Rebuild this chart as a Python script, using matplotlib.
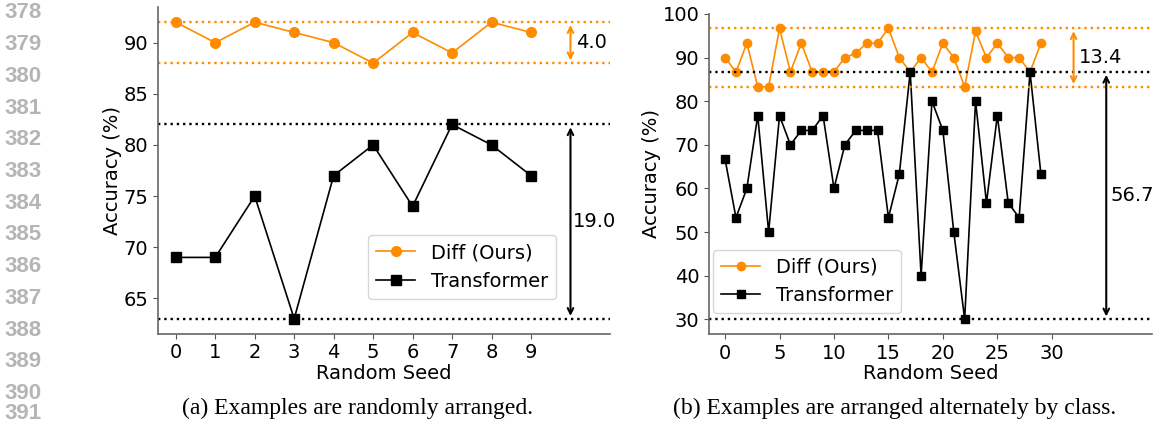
import numpy as np
import matplotlib
matplotlib.use("Agg")
import matplotlib.pyplot as plt

# (a) random arrangement, 10 seeds
seeds_a = list(range(10))
diff_a = [92, 90, 92, 91, 90, 88, 91, 89, 92, 91]
trans_a = [69, 69, 75, 63, 77, 80, 74, 82, 80, 77]

# (b) alternating by class, 30 seeds
seeds_b = list(range(30))
diff_b = [90, 86.7, 93.3, 83.3, 83.3, 96.7, 86.7, 93.3, 86.7, 86.7,
          86.7, 90, 91, 93.3, 93.3, 96.7, 90, 86.7, 90, 86.7,
          93.3, 90, 83.3, 96, 90, 93.3, 90, 90, 86.7, 93.3]
trans_b = [66.7, 53.3, 60, 76.7, 50, 76.7, 70, 73.3, 73.3, 76.7,
           60, 70, 73.3, 73.3, 73.3, 53.3, 63.3, 86.7, 40, 80,
           73.3, 50, 30, 80, 56.7, 76.7, 56.7, 53.3, 86.7, 63.3]

ORANGE = "darkorange"
FS = 14

fig = plt.figure(figsize=(11.55, 4.25), dpi=100)
ax1 = fig.add_axes([0.1368, 0.2151, 0.3913, 0.7675])
ax2 = fig.add_axes([0.6139, 0.2146, 0.3835, 0.7525])


def draw(ax, x, diff, trans, ms, arrow_x, o_lbl, k_lbl, o_tx, k_tx):
    ax.plot(x, diff, "-o", color=ORANGE, lw=1.2, ms=ms, label="Diff (Ours)")
    ax.plot(x, trans, "-s", color="black", lw=1.2, ms=ms, label="Transformer")
    o_lo, o_hi = min(diff), max(diff)
    k_lo, k_hi = min(trans), max(trans)
    for v in (o_lo, o_hi):
        ax.axhline(v, color=ORANGE, ls=":", lw=1.7)
    for v in (k_lo, k_hi):
        ax.axhline(v, color="black", ls=":", lw=1.7)
    ax.annotate("", xy=(arrow_x[0], o_lo), xytext=(arrow_x[0], o_hi),
                arrowprops=dict(arrowstyle="<->", color=ORANGE, lw=1.5))
    ax.annotate("", xy=(arrow_x[1], k_lo), xytext=(arrow_x[1], k_hi),
                arrowprops=dict(arrowstyle="<->", color="black", lw=1.5))
    ax.text(o_tx, (o_lo + o_hi) / 2, o_lbl, fontsize=FS, va="center")
    ax.text(k_tx, (k_lo + k_hi) / 2, k_lbl, fontsize=FS, va="center")
    ax.set_xlabel("Random Seed", fontsize=FS, labelpad=1)
    ax.set_ylabel("Accuracy (%)", fontsize=FS, labelpad=1)
    ax.tick_params(labelsize=FS, color="#555555")
    for s in ("top", "right"):
        ax.spines[s].set_visible(False)
    for s in ("left", "bottom"):
        ax.spines[s].set_color("#666666")
        ax.spines[s].set_linewidth(1.2)


draw(ax1, seeds_a, diff_a, trans_a, 7, (10, 10), "4.0", "19.0", 10.15, 10.05)
ax1.set_xticks(seeds_a)
ax1.set_xlim(-0.45, 11.0)
ax1.set_ylim(61.55, 93.45)
ax1.legend(loc="lower right", bbox_to_anchor=(0.88, 0.107), borderaxespad=0,
           fontsize=FS, handlelength=2.0)

draw(ax2, seeds_b, diff_b, trans_b, 6, (32, 35), "13.4", "56.7", 32.5, 35.4)
ax2.set_xticks(range(0, 31, 5))
ax2.set_xlim(-1.47, 39.2)
ax2.set_ylim(26.67, 100.0)
ax2.legend(loc="lower left", bbox_to_anchor=(0.01, 0.065), borderaxespad=0,
           fontsize=FS, handlelength=2.0)

# line numbers in the margin
for i, n in enumerate(range(378, 391)):
    y = 1 - (13 + 31.7 * i) / 425
    fig.text(42 / 1155, y, str(n), ha="right", va="center", fontsize=16,
             fontweight="bold", color="#b5b5b5", family="Liberation Sans")
fig.text(42 / 1155, 1 - 424 / 425, "391", ha="right", va="bottom", fontsize=16,
         fontweight="bold", color="#b5b5b5", family="Liberation Sans")

fig.text(357 / 1155, 1 - 408 / 425, "(a) Examples are randomly arranged.",
         ha="center", va="center", fontsize=17, family="Liberation Serif")
fig.text(895 / 1155, 1 - 408 / 425, "(b) Examples are arranged alternately by class.",
         ha="center", va="center", fontsize=17, family="Liberation Serif")

fig.savefig("out.png", dpi=100)
